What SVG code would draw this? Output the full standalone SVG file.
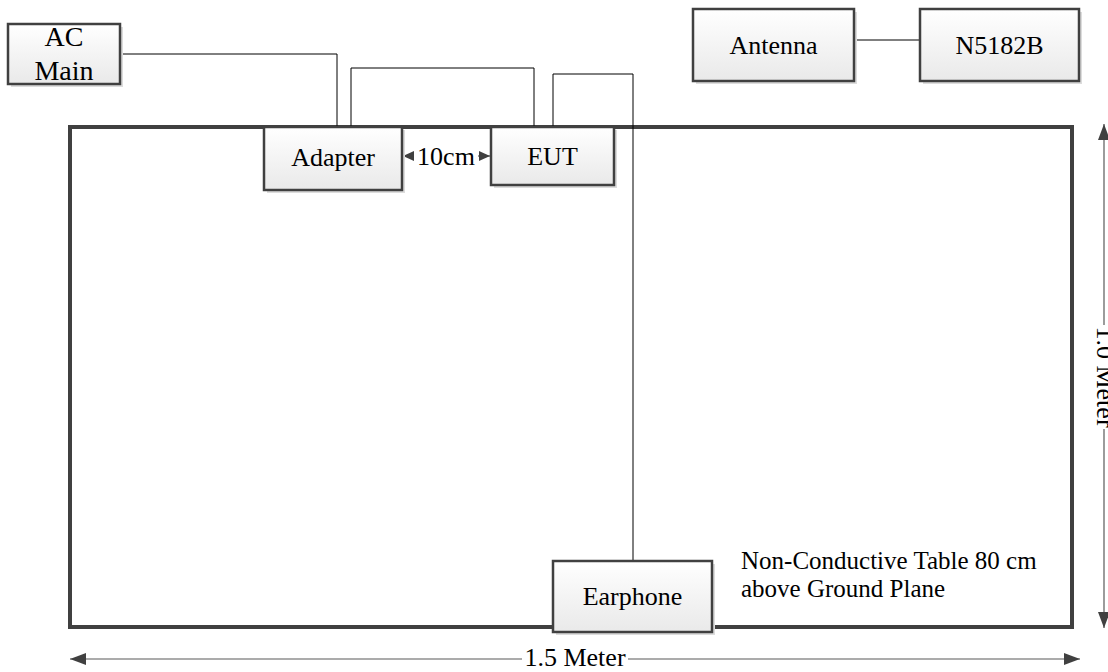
<svg xmlns="http://www.w3.org/2000/svg" width="1108" height="672" viewBox="0 0 1108 672">
  <defs>
    <linearGradient id="boxFill" x1="0" y1="0" x2="0" y2="1">
      <stop offset="0" stop-color="#ffffff"/>
      <stop offset="1" stop-color="#e9e9e9"/>
    </linearGradient>
    <marker id="dimHead" viewBox="0 0 16 12" refX="16" refY="6" markerWidth="16" markerHeight="12" markerUnits="userSpaceOnUse" orient="auto-start-reverse">
      <path d="M0,0 L16,6 L0,12 Z" fill="#404040"/>
    </marker>
    <marker id="smallHead" viewBox="0 0 11 10" refX="11" refY="5" markerWidth="11" markerHeight="10" markerUnits="userSpaceOnUse" orient="auto">
      <path d="M0,0 L11,5 L0,10 Z" fill="#404040"/>
    </marker>
  </defs>
  <style>
    .box { fill: url(#boxFill); stroke: #404040; stroke-width: 2.5; }
    .shadow { fill: #dcdcdc; }
    text { font-family: "Liberation Serif", "Times New Roman", "DejaVu Serif", serif; font-size: 26px; fill: #000; }
    .big { font-size: 28px; }
    .note { font-size: 25px; }
    .wire { fill: none; stroke: #000; stroke-width: 1; }
    .dim { fill: none; stroke: #595959; stroke-width: 1.2; }
    .table { fill: #fff; stroke: #404040; stroke-width: 4; }
  </style>

  <!-- test table outline -->
  <g id="table" font-family="Liberation Serif, serif">
    <rect class="table" x="70" y="127" width="1002" height="500"/>
    <text class="note" x="741" y="569">Non-Conductive Table 80 cm</text>
    <text class="note" x="741" y="597">above Ground Plane</text>
  </g>

  <!-- cabling -->
  <g id="connectors">
    <path class="wire" d="M120,54 H337 V127"/>
    <path class="wire" d="M351,127 V68 H534 V127"/>
    <path class="wire" d="M553,127 V74 H633 V561"/>
    <path class="wire" d="M854,40 H920" stroke="#595959"/>
    <line class="dim" x1="414" y1="156" x2="403" y2="156" marker-end="url(#smallHead)"/>
    <line class="dim" x1="478" y1="156" x2="490" y2="156" marker-end="url(#smallHead)"/>
    <path class="dim" d="M70,659 H522" marker-start="url(#dimHead)"/>
    <path class="dim" d="M628,659 H1080" marker-end="url(#dimHead)"/>
    <path class="dim" d="M1104,124 V325" marker-start="url(#dimHead)"/>
    <path class="dim" d="M1104,429 V628" marker-end="url(#dimHead)"/>
  </g>

  <g id="dim-labels" font-family="Liberation Serif, serif">
    <text x="446" y="165" text-anchor="middle">10cm</text>
    <text x="575" y="666" text-anchor="middle">1.5 Meter</text>
    <text transform="translate(1097,377) rotate(90)" text-anchor="middle">1.0 Meter</text>
  </g>

  <g id="ac-main" font-family="Liberation Serif, serif">
    <rect class="shadow" x="11" y="27" width="112" height="60"/>
    <rect class="box" x="8" y="24" width="112" height="60"/>
    <text class="big" x="64" y="46" text-anchor="middle">AC</text>
    <text class="big" x="64" y="80" text-anchor="middle">Main</text>
  </g>

  <g id="antenna" font-family="Liberation Serif, serif">
    <rect class="shadow" x="696" y="12" width="161" height="72"/>
    <rect class="box" x="693" y="9" width="161" height="72"/>
    <text x="773.5" y="54" text-anchor="middle">Antenna</text>
  </g>

  <g id="n5182b" font-family="Liberation Serif, serif">
    <rect class="shadow" x="923" y="12" width="159" height="72"/>
    <rect class="box" x="920" y="9" width="159" height="72"/>
    <text x="999.5" y="54" text-anchor="middle">N5182B</text>
  </g>

  <g id="adapter" font-family="Liberation Serif, serif">
    <rect class="shadow" x="267" y="130" width="138" height="63"/>
    <rect class="box" x="264" y="127" width="138" height="63"/>
    <text x="333" y="166" text-anchor="middle">Adapter</text>
  </g>

  <g id="eut" font-family="Liberation Serif, serif">
    <rect class="shadow" x="494" y="130" width="123" height="58"/>
    <rect class="box" x="491" y="127" width="123" height="58"/>
    <text x="552.5" y="165" text-anchor="middle">EUT</text>
  </g>

  <g id="earphone" font-family="Liberation Serif, serif">
    <rect class="shadow" x="556" y="564" width="159" height="71"/>
    <rect class="box" x="553" y="561" width="159" height="71"/>
    <text x="632.5" y="605" text-anchor="middle">Earphone</text>
  </g>
</svg>
